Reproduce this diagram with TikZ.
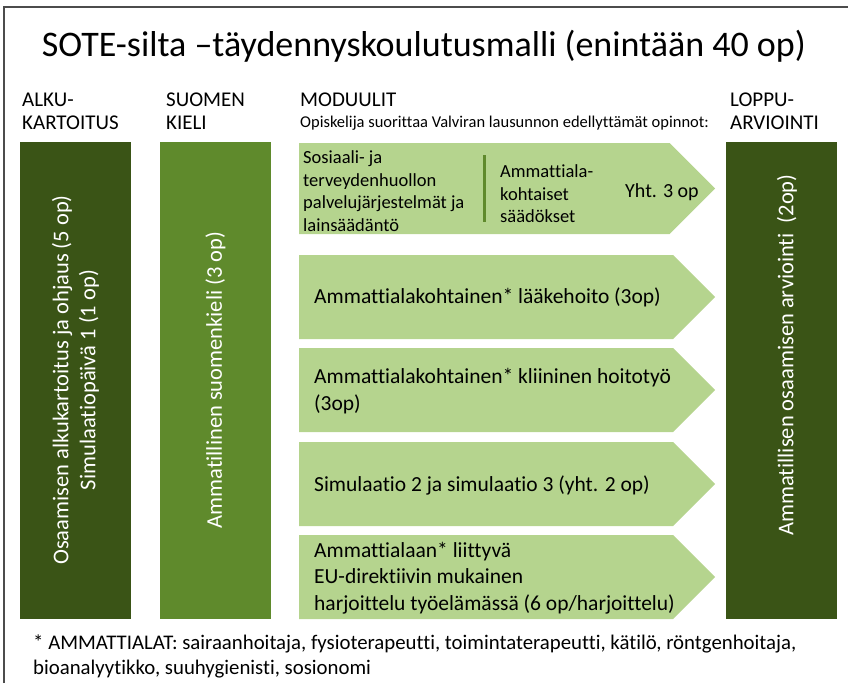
\documentclass[tikz,border=0pt]{standalone}
\usepackage{fontspec}
\setmainfont{Carlito}[Ligatures=NoCommon]
\usetikzlibrary{positioning}
\definecolor{tumma}{RGB}{58,84,22}
\definecolor{keski}{RGB}{95,138,44}
\definecolor{vaalea}{RGB}{181,212,142}
\tikzset{
  pylvas/.style={fill=#1,minimum width=111pt,minimum height=477pt,inner sep=0pt},
  pysty/.style={rotate=90,text=white,align=center,font=\fontsize{22.5}{27}\selectfont},
  modtxt/.style={anchor=west,align=left,inner sep=0pt,font=\fontsize{21.5}{26.5}\selectfont},
  pientxt/.style={anchor=west,align=left,inner sep=0pt,font=\fontsize{18.5}{22.5}\selectfont},
  otsake/.style={anchor=base west,align=left,inner sep=0pt,font=\fontsize{21}{23.5}\selectfont}
}
\begin{document}
\begin{tikzpicture}[x=1pt,y=-1pt]
    \useasboundingbox (0,0) rectangle (848,683);
    \draw[line width=1.6pt,black!70] (4,683) -- (4,7) -- (848,7);

    \node[anchor=base,inner sep=0pt,font=\fontsize{36}{40}\selectfont] (otsikko) at (424,56)
      {SOTE-silta –täydennyskoulutusmalli (enintään 40 op)};

    \node[otsake] (h1) at (22,129.5) {ALKU-\\KARTOITUS};
    \node[otsake] (h2) at (166,129.5) {SUOMEN\\KIELI};
    \node[otsake] (h3) at (300,106) {MODUULIT};
    \node[anchor=base west,inner sep=0pt,font=\fontsize{16.5}{18}\selectfont] (h3b) at (300,127)
      {Opiskelija suorittaa Valviran lausunnon edellyttämät opinnot:};
    \node[otsake] (h4) at (730,129.5) {LOPPU-\\ARVIOINTI};

    \node[pylvas=tumma] (alku) at (75.5,380) {};
    \node[pysty] (alkut) at (alku.center)
      {Osaamisen alkukartoitus ja ohjaus (5 op)\\Simulaatiopäivä 1 (1 op)};

    \node[pylvas=keski] (kieli) at (215.5,380) {};
    \node[pysty] (kielit) at (kieli.center) {Ammatillinen suomenkieli (3 op)};

    \node[pylvas=tumma] (loppu) at (781.5,380) {};
    \node[pysty] (lopput) at (787,355) {Ammatillisen osaamisen arviointi~~(2op)};

    \fill[vaalea] (299,143) -- (669.5,143) -- (715,188.5) -- (669.5,234) -- (299,234) -- cycle;
    \fill[vaalea] (299,255) -- (673,255) -- (715,297) -- (673,339) -- (299,339) -- cycle;
    \fill[vaalea] (299,348) -- (673,348) -- (715,390) -- (673,432) -- (299,432) -- cycle;
    \fill[vaalea] (299,442) -- (673,442) -- (715,484) -- (673,526) -- (299,526) -- cycle;
    \fill[vaalea] (299,535) -- (673,535) -- (715,577) -- (673,619) -- (299,619) -- cycle;

    \node[pientxt] (m1a) at (303,191)
      {Sosiaali- ja\\terveydenhuollon\\palvelujärjestelmät ja\\lainsäädäntö};
    \draw[keski,line width=3pt] (484,155) -- (484,222);
    \node[pientxt] (m1b) at (500,194) {Ammattiala-\\kohtaiset\\säädökset};
    \node[pientxt,font=\fontsize{20}{24}\selectfont] (m1c) at (625,192) {Yht. 3 op};

    \node[modtxt] (m2) at (314,297) {Ammattialakohtainen* lääkehoito (3op)};
    \node[modtxt] (m3) at (314,391) {Ammattialakohtainen* kliininen hoitotyö\\(3op)};
    \node[modtxt] (m4) at (314,485) {Simulaatio 2 ja simulaatio 3 (yht. 2 op)};
    \node[modtxt] (m5) at (314,578)
      {Ammattialaan* liittyvä\\EU-direktiivin mukainen\\harjoittelu työelämässä (6 op/harjoittelu)};

    \node[anchor=base west,align=left,inner sep=0pt,font=\fontsize{20.8}{25}\selectfont] (alat) at (33,674)
      {* AMMATTIALAT: sairaanhoitaja, fysioterapeutti, toimintaterapeutti, kätilö, röntgenhoitaja,\\
       bioanalyytikko, suuhygienisti, sosionomi};
\end{tikzpicture}
\end{document}
